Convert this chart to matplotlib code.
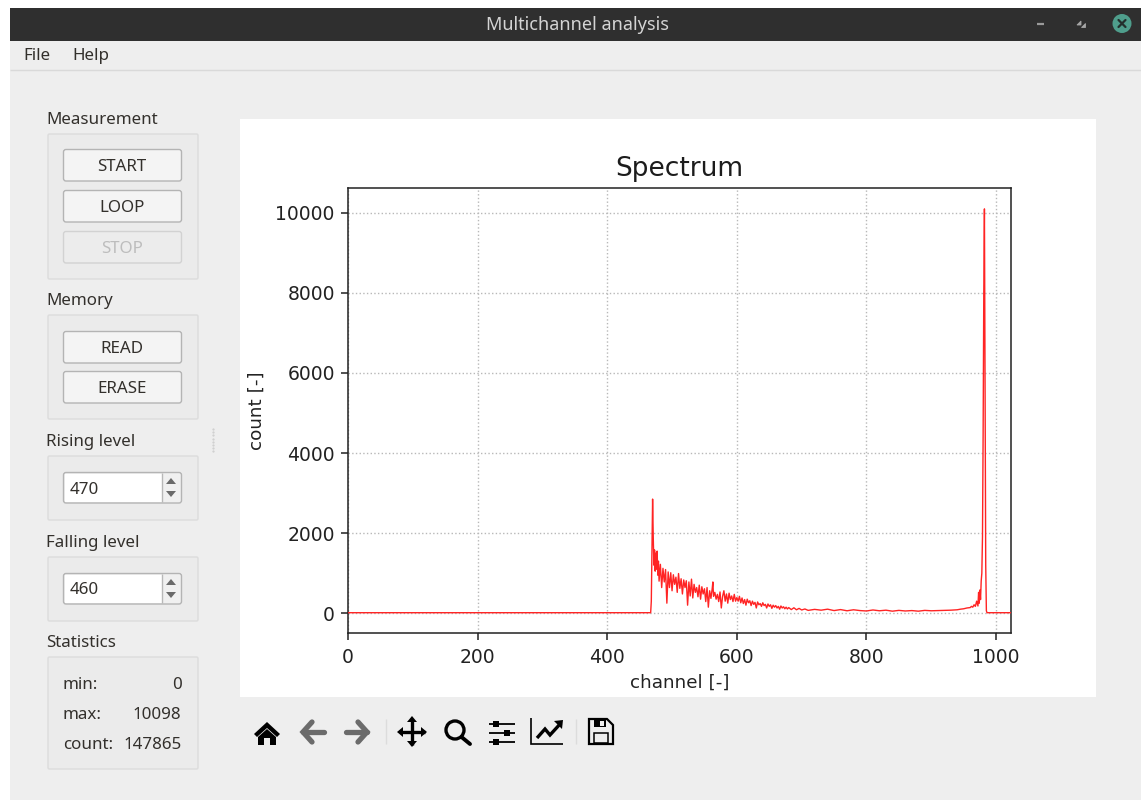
import matplotlib
matplotlib.use("Agg")
import matplotlib.pyplot as plt
from matplotlib.patches import Rectangle, FancyBboxPatch, Circle, Polygon

# ---------- data ----------
rise_channels = [0, 466, 467, 468, 469, 470, 471, 472, 473, 474, 475, 476, 477, 478, 479, 480]
rise_counts = [12, 12, 12, 300, 1500, 2850, 1900, 1200, 1580, 1050, 1500, 1100, 1550, 950, 1300, 800]

noisy_channels = [482, 484, 486, 488, 490, 492, 494, 496, 498, 500, 502, 504, 506, 508, 510, 512, 514, 516, 518, 520,
                  522, 524, 526, 528, 530, 532, 534, 536, 538, 540, 542, 544, 546, 548, 550, 552, 554, 556, 558, 560,
                  562, 563, 564, 566, 568, 570, 572, 574, 576, 578, 580, 582, 584, 586, 588, 590, 592, 594, 596, 598, 600]
noisy_counts = [1220, 640, 1120, 780, 1090, 250, 1030, 640, 1010, 560, 960, 720, 900, 520, 990, 620, 860, 480, 830, 640,
                810, 200, 780, 430, 850, 380, 720, 520, 640, 410, 700, 350, 660, 480, 610, 290, 640, 150, 560, 370,
                620, 780, 420, 520, 350, 470, 290, 530, 130, 420, 560, 300, 480, 250, 500, 340, 430, 290, 470, 300, 390]

tail_channels = [602, 604, 606, 608, 610, 612, 614, 616, 618, 620, 622, 624, 626, 628, 630, 632, 634, 636, 638, 640,
                 642, 644, 646, 648, 650, 652, 654, 656, 658, 660, 662, 664, 666, 668, 670, 672, 674, 676, 678, 680,
                 684, 688, 692, 696, 700, 705, 710, 720, 730, 740, 750, 760, 770, 780, 790, 800, 810, 820, 830, 840,
                 850, 860, 870, 880, 890, 900, 910, 920, 930, 940, 945, 950, 955, 960]
tail_counts = [300, 420, 260, 380, 240, 340, 200, 350, 260, 310, 190, 300, 220, 270, 130, 280, 210, 240, 170, 260,
               190, 220, 130, 230, 170, 210, 120, 200, 150, 190, 130, 170, 100, 180, 130, 160, 110, 150, 105, 140,
               90, 135, 85, 120, 80, 105, 70, 95, 75, 100, 65, 90, 60, 85, 65, 55, 80, 60, 75, 50,
               70, 55, 65, 50, 70, 60, 65, 70, 75, 85, 100, 110, 130, 140]

peak_channels = [962, 964, 966, 968, 970, 972, 973, 974, 975, 976, 977, 978, 979, 980, 981, 982, 983, 984, 985, 986, 1023]
peak_counts = [170, 150, 210, 170, 300, 180, 520, 250, 580, 340, 800, 1000, 1900, 4500, 8000, 10098, 5500, 1200, 60, 12, 12]

channels = rise_channels + noisy_channels + tail_channels + peak_channels
counts = rise_counts + noisy_counts + tail_counts + peak_counts

x_ticks = [0, 200, 400, 600, 800, 1000]
y_ticks = [0, 2000, 4000, 6000, 8000, 10000]
stat_names = ["min:", "max:", "count:"]
stat_values = ["0", "10098", "147865"]

# ---------- figure ----------
W, H = 1141, 801
fig = plt.figure(figsize=(W / 100, H / 100), dpi=100, facecolor="white")
ui = fig.add_axes([0, 0, 1, 1], zorder=0)
ui.set_xlim(0, W)
ui.set_ylim(H, 0)
ui.axis("off")
UI_FONT = ["Noto Sans", "DejaVu Sans"]
FG = "#33302c"


def rect(x0, y0, x1, y1, fc, ec="none", lw=0.0, z=1):
    ui.add_patch(Rectangle((x0, y0), x1 - x0, y1 - y0, fc=fc, ec=ec, lw=lw, zorder=z))


def rbox(x0, y0, x1, y1, fc, ec, lw=1.0, r=2.5, z=2):
    ui.add_patch(FancyBboxPatch((x0 + r, y0 + r), x1 - x0 - 2 * r, y1 - y0 - 2 * r,
                                boxstyle=f"round,pad={r},rounding_size={r}",
                                fc=fc, ec=ec, lw=lw, zorder=z))


def label(x, y, s, size=12.2, color=FG, ha="left", **kw):
    ui.text(x, y, s, fontsize=size, color=color, ha=ha, va="center", family=UI_FONT, zorder=5, **kw)


def line(xs, ys, color="black", lw=2.0, cap="round", z=4):
    ui.plot(xs, ys, color=color, lw=lw, solid_capstyle=cap, solid_joinstyle="miter", zorder=z)


# window chrome
rect(10, 8, W, 800, "#eeeeee")
rect(10, 8, W, 41, "#2f2f2f", z=2)
label(578, 25.5, "Multichannel analysis", size=13, color="#d4d4d4", ha="center", fontweight="medium")
line([1037, 1044], [23.5, 23.5], color="#9a9a9a", lw=1.6, cap="butt")
ui.add_patch(Polygon([(1077, 25), (1081, 21), (1081, 25)], fc="#a5a5a5", ec="#a5a5a5", lw=0.6, zorder=4))
ui.add_patch(Polygon([(1081, 27), (1085, 27), (1085, 23)], fc="#a5a5a5", ec="#a5a5a5", lw=0.6, zorder=4))
ui.add_patch(Circle((1122, 23.5), 9.5, fc="#4f9e8c", ec="none", zorder=3))
line([1118.5, 1125.5], [20, 27], color="#23302d", lw=1.6)
line([1118.5, 1125.5], [27, 20], color="#23302d", lw=1.6)
label(23.5, 56, "File")
label(72.5, 56, "Help")
line([10, W], [69.5, 69.5], color="#d9d9d9", lw=1.0, cap="butt")
rect(240, 119, 1096, 697, "white")

# group boxes
for y0, y1, title in [(134, 279, "Measurement"), (315, 419, "Memory"), (456, 520, "Rising level"),
                      (557, 621, "Falling level"), (657, 769, "Statistics")]:
    rbox(48, y0, 198, y1, "#ebebeb", "#dcdcdc", r=1.5, z=1.5)
    label(46.5, y0 - 14, title)

# buttons
for y0, text, col in [(149, "START", FG), (190, "LOOP", FG), (231, "STOP", "#bdbdbd"),
                      (331, "READ", FG), (371, "ERASE", FG)]:
    disabled = text == "STOP"
    rbox(63.5, y0 + 0.5, 181.5, y0 + 32, "#ececec" if disabled else "#f4f4f4",
         "#d2d2d2" if disabled else "#b4b4b4")
    label(122, y0 + 18, text, color=col, ha="center", size=12.2)

# spin boxes
for y0, text in [(472, "470"), (573, "460")]:
    rbox(63.5, y0 + 0.5, 181.5, y0 + 31, "#f0f0f0", "#b4b4b4")
    rect(65, y0 + 2, 161.5, y0 + 29.5, "white", z=3)
    line([162, 162], [y0 + 1, y0 + 30], color="#b8b8b8", lw=1.0, cap="butt")
    ui.add_patch(Polygon([(166, y0 + 12), (176, y0 + 12), (171, y0 + 6)], fc="#6a6a6a", ec="none", zorder=4))
    ui.add_patch(Polygon([(166, y0 + 19), (176, y0 + 19), (171, y0 + 25)], fc="#6a6a6a", ec="none", zorder=4))
    label(70, y0 + 17.5, text)

# statistics
for y, name, value in zip([685, 715, 745], stat_names, stat_values):
    label(63, y, name)
    label(181.5, y, value, ha="right")

# splitter dots
ui.plot([213] * 8, [429 + 3.2 * i for i in range(8)], ls="none", marker="s", ms=0.6, color="#d0d0d0", zorder=3)

# toolbar icons
K = "black"
G = "#6b6b6b"
# home
ui.add_patch(Polygon([(254, 734), (267, 722), (280, 734), (277, 737), (267, 728), (257, 737)], fc=K, ec="none", zorder=4))
ui.add_patch(Polygon([(258, 737), (267, 729), (276, 737), (276, 745), (270, 745), (270, 738), (264, 738), (264, 745), (258, 745)], fc=K, ec="none", zorder=4))
# back / forward
line([303, 324], [732, 732], color=G, lw=3.8)
line([312, 303, 312], [722, 732, 742], color=G, lw=3.8)
line([346, 367], [732, 732], color=G, lw=3.8)
line([358, 367, 358], [722, 732, 742], color=G, lw=3.8)
# separators
line([385.5, 385.5], [719, 744], color="#dcdcdc", lw=1.0, cap="butt")
line([575.5, 575.5], [719, 744], color="#dcdcdc", lw=1.0, cap="butt")
# move
line([400, 425], [732, 732], lw=2.4, cap="butt")
line([412, 412], [720, 745], lw=2.4, cap="butt")
for pts in [[(397, 732), (403, 727), (403, 737)], [(427, 732), (421, 727), (421, 737)],
            [(412, 716), (407, 722), (417, 722)], [(412, 747), (407, 741), (417, 741)]]:
    ui.add_patch(Polygon(pts, fc=K, ec="none", zorder=4))
# zoom
ui.add_patch(Circle((455, 730), 9, fc="none", ec=K, lw=2.4, zorder=4))
line([461.5, 470], [737, 744], lw=2.8)
# sliders
for y, cx in [(723.5, 496), (732.5, 507), (741.5, 496)]:
    line([489, 515], [y, y], lw=1.3, cap="butt")
    rect(cx - 3, y - 3, cx + 3, y + 3, K, z=4)
# line chart icon
line([531, 531, 563], [718, 743.5, 743.5], lw=1.2, cap="butt")
line([537, 545, 550, 561], [738, 729, 735, 723], lw=2.4, cap="butt")
ui.add_patch(Polygon([(554, 721), (563, 720), (562, 729)], fc=K, ec="none", zorder=4))
# save
ui.add_patch(Polygon([(589, 719), (607, 719), (613, 725), (613, 744), (589, 744)], fc="none", ec=K, lw=1.6, zorder=4))
rect(594, 719, 606, 727, K, z=4)
rect(600, 720.5, 604, 725.5, "#eeeeee", z=5)
ui.add_patch(Rectangle((594, 733), 14, 10, fc="none", ec=K, lw=1.1, zorder=4))

# ---------- the chart ----------
ax = fig.add_axes([348 / W, 1 - 633 / H, (1011 - 348) / W, (633 - 188) / H], zorder=2)
ax.plot(channels, counts, color="#ff2424", lw=1.0, zorder=3)
ax.set_xlim(0, 1023)
ax.set_ylim(-495, 10620)
ax.set_xticks(x_ticks)
ax.set_yticks(y_ticks)
ax.tick_params(labelsize=13.5, length=5, width=1.1, colors="#222222", pad=4.5)
ax.tick_params(axis="x", pad=5.5)
ax.grid(True, ls=":", color="#b8b8b8", lw=1.0)
ax.set_axisbelow(True)
for s in ax.spines.values():
    s.set_color("#222222")
    s.set_linewidth(1.1)
ax.set_title("Spectrum", fontsize=19, pad=9, color="#1c1c1c")
ax.set_xlabel("channel [-]", fontsize=13.2, labelpad=5, color="#222222")
ax.set_ylabel("count [-]", fontsize=13.2, labelpad=7, color="#222222")

fig.savefig("out.png", dpi=100)
